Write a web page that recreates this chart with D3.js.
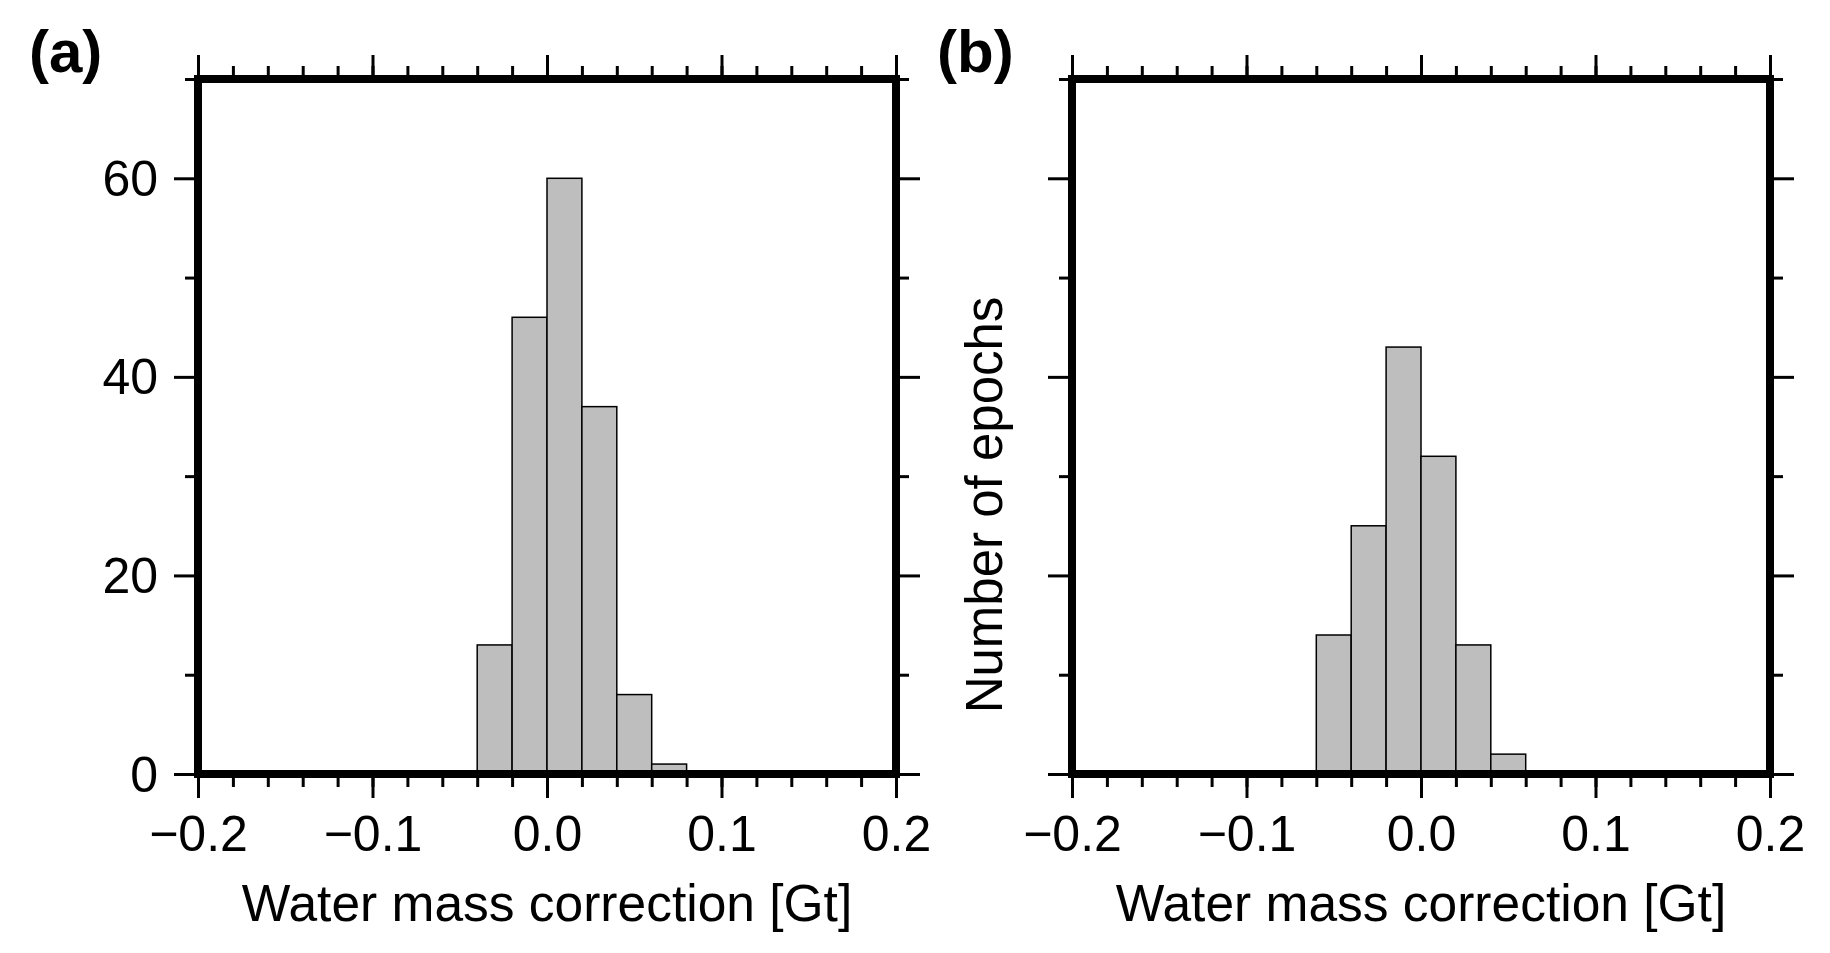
<!DOCTYPE html>
<html>
<head>
<meta charset="utf-8">
<script src="https://cdn.jsdelivr.net/npm/d3@7"></script>
<style>
  body { margin: 0; background: #fff; }
  svg { display: block; }
  text { font-family: "Liberation Sans", Arial, Helvetica, sans-serif; }
</style>
</head>
<body>
<svg id="chart" width="1830" height="953"></svg>
<script>
// histogram bins (left edges) and counts, bin width 0.02 Gt
const binWidth = 0.02;
const binStartsA = [-0.04, -0.02, 0.00, 0.02, 0.04, 0.06];
const countsA = [13, 46, 60, 37, 8, 1];
const binStartsB = [-0.06, -0.04, -0.02, 0.00, 0.02, 0.04];
const countsB = [14, 25, 43, 32, 13, 2];

const xDomain = [-0.2, 0.2];
const yDomain = [0, 70];
const xMajorTicks = [-0.2, -0.1, 0.0, 0.1, 0.2];
const xMinorTicks = d3.range(-10, 11).map(i => +(i * 0.02).toFixed(2));
const yMajorTicks = [0, 20, 40, 60];
const yMinorTicks = [10, 30, 50, 70];

const xTitle = 'Water mass correction [Gt]';
const yTitle = 'Number of epochs';

const svg = d3.select('#chart');
const W = 698, H = 695, TOP = 79;
const FONT = '"Liberation Sans", Arial, Helvetica, sans-serif';
const fmt = d3.format('.1f');

function styleAxis(sel) {
  sel.attr('font-size', 50).attr('font-family', FONT);
  sel.select('.domain').remove();
  sel.selectAll('.tick line').attr('stroke', '#000').attr('stroke-width', 3);
  sel.selectAll('.tick text').attr('fill', '#000');
}

function drawPanel(opt) {
  const g = svg.append('g').attr('transform', `translate(${opt.left},${TOP})`);
  const x = d3.scaleLinear().domain(xDomain).range([0, W]);
  const y = d3.scaleLinear().domain(yDomain).range([H, 0]);

  const bins = opt.starts.map((s, i) => ({ x0: s, x1: s + binWidth, n: opt.counts[i] }));
  g.selectAll('rect.bar')
    .data(bins)
    .join('rect')
    .attr('class', 'bar')
    .attr('x', d => x(d.x0))
    .attr('width', d => x(d.x1) - x(d.x0))
    .attr('y', d => y(d.n))
    .attr('height', d => y(0) - y(d.n))
    .attr('fill', '#bebebe')
    .attr('stroke', '#000')
    .attr('stroke-width', 1.5);

  // minor ticks
  g.append('g').attr('transform', `translate(0,${H})`)
    .call(d3.axisBottom(x).tickValues(xMinorTicks).tickSize(13).tickFormat(''))
    .call(styleAxis);
  g.append('g')
    .call(d3.axisTop(x).tickValues(xMinorTicks).tickSize(13).tickFormat(''))
    .call(styleAxis);
  g.append('g')
    .call(d3.axisLeft(y).tickValues(yMinorTicks).tickSize(13).tickFormat(''))
    .call(styleAxis);
  g.append('g').attr('transform', `translate(${W},0)`)
    .call(d3.axisRight(y).tickValues(yMinorTicks).tickSize(13).tickFormat(''))
    .call(styleAxis);

  // major ticks
  g.append('g').attr('transform', `translate(0,${H})`)
    .call(d3.axisBottom(x).tickValues(xMajorTicks).tickSize(24).tickPadding(17).tickFormat(fmt))
    .call(styleAxis);
  g.append('g')
    .call(d3.axisTop(x).tickValues(xMajorTicks).tickSize(24).tickFormat(''))
    .call(styleAxis);
  g.append('g')
    .call(d3.axisLeft(y).tickValues(yMajorTicks).tickSize(24).tickPadding(16)
      .tickFormat(opt.yLabels ? d3.format('d') : ''))
    .call(styleAxis)
    .selectAll('.tick text').attr('dy', '0.34em');
  g.append('g').attr('transform', `translate(${W},0)`)
    .call(d3.axisRight(y).tickValues(yMajorTicks).tickSize(24).tickFormat(''))
    .call(styleAxis);

  // frame
  g.append('rect')
    .attr('width', W).attr('height', H)
    .attr('fill', 'none')
    .attr('stroke', '#000')
    .attr('stroke-width', 8);

  // x title
  g.append('text')
    .attr('x', W / 2).attr('y', 921 - TOP)
    .attr('text-anchor', 'middle')
    .attr('font-size', 51.5)
    .text(xTitle);

  if (opt.yTitle) {
    g.append('text')
      .attr('transform', `translate(${1002 - opt.left},${505 - TOP}) rotate(-90)`)
      .attr('text-anchor', 'middle')
      .attr('font-size', 51)
      .text(opt.yTitle);
  }

  svg.append('text')
    .attr('x', opt.labelX).attr('y', 72)
    .attr('font-size', 60)
    .attr('font-weight', 'bold')
    .text(opt.label);
}

drawPanel({ left: 198, starts: binStartsA, counts: countsA, yLabels: true, label: '(a)', labelX: 29 });
drawPanel({ left: 1072, starts: binStartsB, counts: countsB, yLabels: false, yTitle: yTitle, label: '(b)', labelX: 937 });
</script>
</body>
</html>
